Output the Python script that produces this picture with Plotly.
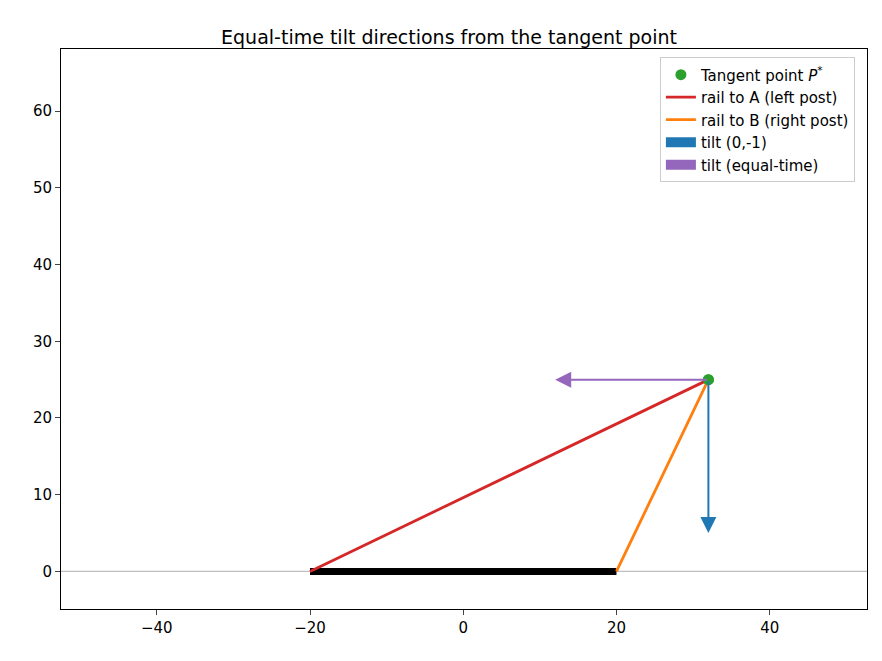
import plotly.graph_objects as go

P = (32, 25)
A = (-20, 0)
B = (20, 0)
tilt_down = (0, -20)
tilt_eq = (-20, 0)
post_bar = (-20, 20)

fig = go.Figure()
fig.add_hline(y=0, line=dict(color="#bfbfbf", width=1.2), layer="below")
fig.add_trace(go.Scatter(x=list(post_bar), y=[0, 0], mode="lines",
                         line=dict(color="black", width=7), showlegend=False))
fig.add_trace(go.Scatter(x=[P[0]], y=[P[1]], mode="markers",
                         marker=dict(color="#2ca02c", size=11), name="Tangent point <i>P</i><sup>*</sup>"))
fig.add_trace(go.Scatter(x=[A[0], P[0]], y=[A[1], P[1]], mode="lines",
                         line=dict(color="#d62728", width=2.8), name="rail to A (left post)"))
fig.add_trace(go.Scatter(x=[B[0], P[0]], y=[B[1], P[1]], mode="lines",
                         line=dict(color="#ff7f0e", width=2.8), name="rail to B (right post)"))
fig.add_trace(go.Scatter(x=[None], y=[None], mode="lines",
                         line=dict(color="#1f77b4", width=12), name="tilt (0,-1)"))
fig.add_trace(go.Scatter(x=[None], y=[None], mode="lines",
                         line=dict(color="#9467bd", width=12), name="tilt (equal-time)"))
fig.add_trace(go.Scatter(x=[P[0]], y=[P[1]], mode="markers",
                         marker=dict(color="#2ca02c", size=11), showlegend=False))

for (dx, dy), c in [(tilt_down, "#1f77b4"), (tilt_eq, "#9467bd")]:
    fig.add_annotation(x=P[0] + dx, y=P[1] + dy, ax=P[0], ay=P[1], xref="x", yref="y",
                       axref="x", ayref="y", showarrow=True, arrowhead=2, arrowsize=1.6,
                       arrowwidth=2, arrowcolor=c, text="")

fig.update_layout(
    width=882, height=661, plot_bgcolor="white", paper_bgcolor="white",
    font=dict(family="DejaVu Sans", size=15, color="black"),
    title=dict(text="Equal-time tilt directions from the tangent point", x=0.5, y=0.965,
               xanchor="center", font=dict(size=19)),
    margin=dict(l=53, r=23, t=41, b=60),
    legend=dict(x=0.985, y=0.985, xanchor="right", yanchor="top",
                bordercolor="#cccccc", borderwidth=1, bgcolor="rgba(255,255,255,0.9)",
                font=dict(size=15)),
)
fig.update_xaxes(range=[-52.5, 52.7], tickvals=[-40, -20, 0, 20, 40], showgrid=False,
                 zeroline=False, showline=True, mirror=True, linecolor="black",
                 ticks="outside", tickfont=dict(size=15))
fig.update_yaxes(range=[-4.9, 68.1], tickvals=[0, 10, 20, 30, 40, 50, 60], showgrid=False,
                 zeroline=False, showline=True, mirror=True, linecolor="black",
                 ticks="outside", tickfont=dict(size=15))
fig.write_html("out.html")
